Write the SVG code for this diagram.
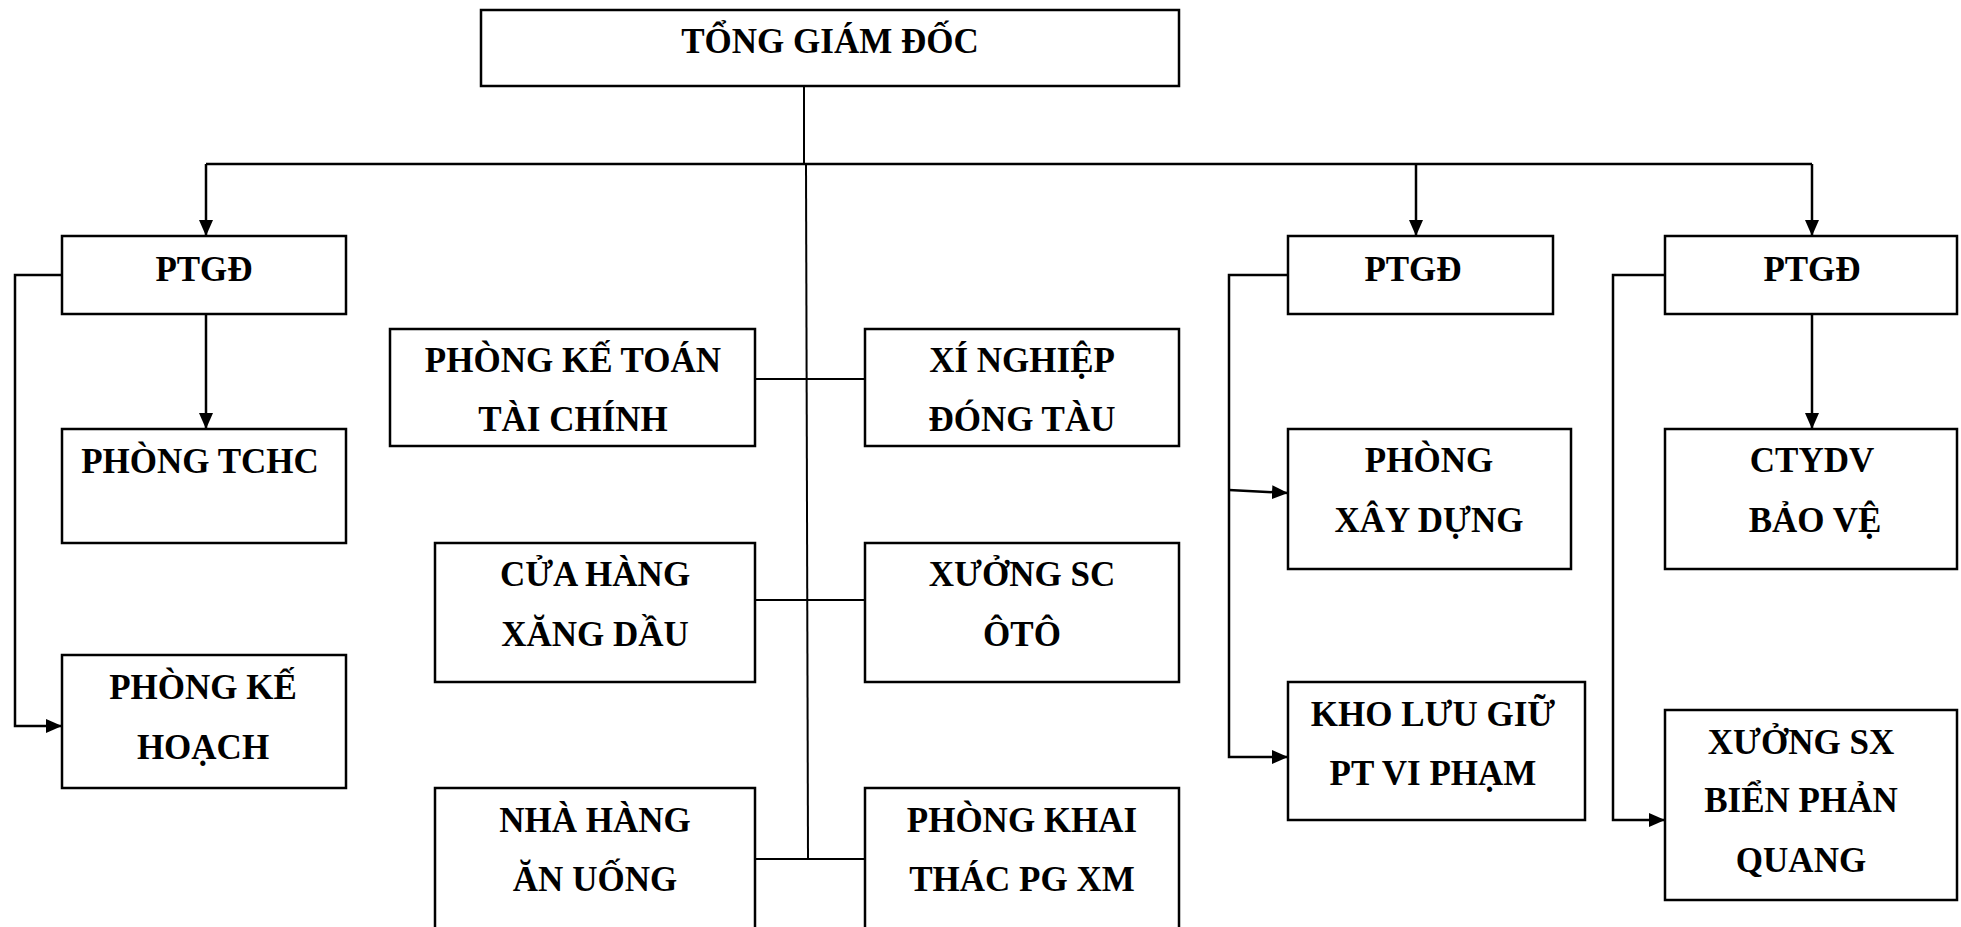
<svg xmlns="http://www.w3.org/2000/svg" width="1961" height="927" viewBox="0 0 1961 927">
<style>
.box{fill:#fff;stroke:#000;stroke-width:2.5}
.t{font-family:"Liberation Serif","Times New Roman",serif;font-weight:bold;font-size:35px;fill:#000;text-anchor:middle}
.ln{fill:none;stroke:#000;stroke-width:2.5}
.thin{fill:none;stroke:#000;stroke-width:2}
</style>
<defs>
<marker id="ah" markerWidth="16" markerHeight="14" refX="16" refY="7" orient="auto" markerUnits="userSpaceOnUse">
<path d="M0,0 L16,7 L0,14 Z" fill="#000"/>
</marker>
</defs>
<rect width="1961" height="927" fill="#fff"/>
<g id="connectors">
<line class="thin" x1="804" y1="86" x2="804" y2="164"/>
<line class="thin" x1="806" y1="164" x2="808" y2="859"/>
<polyline class="ln" points="206,164 1812,164"/>
<line class="ln" x1="206" y1="164" x2="206" y2="236" marker-end="url(#ah)"/>
<line class="ln" x1="1416" y1="164" x2="1416" y2="236" marker-end="url(#ah)"/>
<line class="ln" x1="1812" y1="164" x2="1812" y2="236" marker-end="url(#ah)"/>
<line class="ln" x1="206" y1="314" x2="206" y2="429" marker-end="url(#ah)"/>
<polyline class="ln" points="62,275 15,275 15,726 62,726" marker-end="url(#ah)"/>
<line class="thin" x1="755" y1="379" x2="865" y2="379"/>
<line class="thin" x1="755" y1="600" x2="865" y2="600"/>
<line class="thin" x1="755" y1="859" x2="865" y2="859"/>
<polyline class="ln" points="1288,275 1229,275 1229,757 1288,757" marker-end="url(#ah)"/>
<line class="ln" x1="1229" y1="490" x2="1288" y2="493" marker-end="url(#ah)"/>
<polyline class="ln" points="1665,275 1613,275 1613,820 1665,820" marker-end="url(#ah)"/>
<line class="ln" x1="1812" y1="314" x2="1812" y2="429" marker-end="url(#ah)"/>
</g>
<g id="tgd"><rect class="box" x="481" y="10" width="698" height="76"/><text class="t" x="830" y="53">TỔNG GIÁM ĐỐC</text></g>
<g id="ptgd1"><rect class="box" x="62" y="236" width="284" height="78"/><text class="t" x="204" y="281">PTGĐ</text></g>
<g id="tchc"><rect class="box" x="62" y="429" width="284" height="114"/><text class="t" x="200" y="473">PHÒNG TCHC</text></g>
<g id="kehoach"><rect class="box" x="62" y="655" width="284" height="133"/><text class="t" x="203" y="699">PHÒNG KẾ</text><text class="t" x="203" y="759">HOẠCH</text></g>
<g id="ketoan"><rect class="box" x="390" y="329" width="365" height="117"/><text class="t" x="573" y="372">PHÒNG KẾ TOÁN</text><text class="t" x="573" y="431">TÀI CHÍNH</text></g>
<g id="xinghiep"><rect class="box" x="865" y="329" width="314" height="117"/><text class="t" x="1022" y="372">XÍ NGHIỆP</text><text class="t" x="1022" y="431">ĐÓNG TÀU</text></g>
<g id="cuahang"><rect class="box" x="435" y="543" width="320" height="139"/><text class="t" x="595" y="586">CỬA HÀNG</text><text class="t" x="595" y="646">XĂNG DẦU</text></g>
<g id="xuongsc"><rect class="box" x="865" y="543" width="314" height="139"/><text class="t" x="1022" y="586">XƯỞNG SC</text><text class="t" x="1022" y="646">ÔTÔ</text></g>
<g id="nhahang"><rect class="box" x="435" y="788" width="320" height="160"/><text class="t" x="595" y="832">NHÀ HÀNG</text><text class="t" x="595" y="891">ĂN UỐNG</text></g>
<g id="khaithac"><rect class="box" x="865" y="788" width="314" height="160"/><text class="t" x="1022" y="832">PHÒNG KHAI</text><text class="t" x="1022" y="891">THÁC PG XM</text></g>
<g id="ptgd2"><rect class="box" x="1288" y="236" width="265" height="78"/><text class="t" x="1413" y="281">PTGĐ</text></g>
<g id="xaydung"><rect class="box" x="1288" y="429" width="283" height="140"/><text class="t" x="1429" y="472">PHÒNG</text><text class="t" x="1429" y="532">XÂY DỰNG</text></g>
<g id="kho"><rect class="box" x="1288" y="682" width="297" height="138"/><text class="t" x="1433" y="726">KHO LƯU GIỮ</text><text class="t" x="1433" y="785">PT VI PHẠM</text></g>
<g id="ptgd3"><rect class="box" x="1665" y="236" width="292" height="78"/><text class="t" x="1812" y="281">PTGĐ</text></g>
<g id="baove"><rect class="box" x="1665" y="429" width="292" height="140"/><text class="t" x="1812" y="472">CTYDV</text><text class="t" x="1815" y="532">BẢO VỆ</text></g>
<g id="xuongsx"><rect class="box" x="1665" y="710" width="292" height="190"/><text class="t" x="1801" y="754">XƯỞNG SX</text><text class="t" x="1801" y="812">BIỂN PHẢN</text><text class="t" x="1801" y="872">QUANG</text></g>
</svg>
